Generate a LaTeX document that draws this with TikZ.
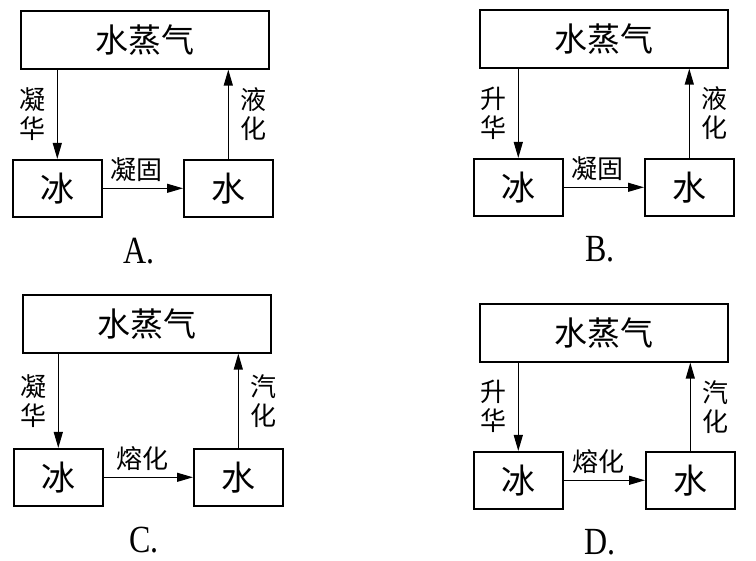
\documentclass[tikz,border=0pt]{standalone}
\usepackage{fontspec}
\setmainfont{Liberation Serif}
\newfontfamily\cjk{Noto Sans CJK SC}
\usetikzlibrary{arrows.meta,calc}
\tikzset{
         vapbox/.style={draw,line width=1.6pt,minimum width=248pt,minimum height=58pt,inner sep=0pt,anchor=north west,font=\cjk\fontsize{33}{33}\selectfont},
         statebox/.style={draw,line width=1.6pt,minimum width=89pt,minimum height=57pt,inner sep=0pt,anchor=north west,font=\cjk\fontsize{34}{34}\selectfont},
         stage/.style={inner sep=0pt,align=center,font=\cjk\fontsize{26}{29}\selectfont},
         arr/.style={line width=1.2pt,-{Triangle[length=16pt,width=9pt]}},
         letter/.style={inner sep=0pt,font=\fontsize{32}{32}\selectfont}
        }
\begin{document}
\begin{tikzpicture}[x=1pt,y=-1pt]
\useasboundingbox(0,0)rectangle(756,561);
\foreach \p/\vx/\vy/\ix/\iy/\wx/\dn/\up/\mid in {A/20/10/12/159/183/凝\\华/液\\化/凝固,B/479/9/473/158/644/升\\华/液\\化/凝固,C/22/294/13/448/193/凝\\华/汽\\化/熔化,D/479/303/473/451/645/升\\华/汽\\化/熔化}{
\node[vapbox](vap\p)at(\vx,\vy){水蒸气};
\node[statebox](ice\p)at(\ix,\iy){冰};
\node[statebox](wat\p)at(\wx,\iy){水};
\draw[arr](vap\p.south-|ice\p.north)--node[stage,midway,left=11pt]{\dn}(ice\p.north);
\draw[arr](wat\p.north)--node[stage,midway,right=12pt]{\up}(wat\p.north|-vap\p.south);
\draw[arr](ice\p.east)--node[stage,midway,above=6pt,xshift=-6pt]{\mid}(wat\p.west);
%labels
\node[letter](lab\p)at($(ice\p.south)!.5!(wat\p.south)+(-4,33)$){\scalebox{1}[1.2]{\p.}};
}
\end{tikzpicture}
\end{document}
